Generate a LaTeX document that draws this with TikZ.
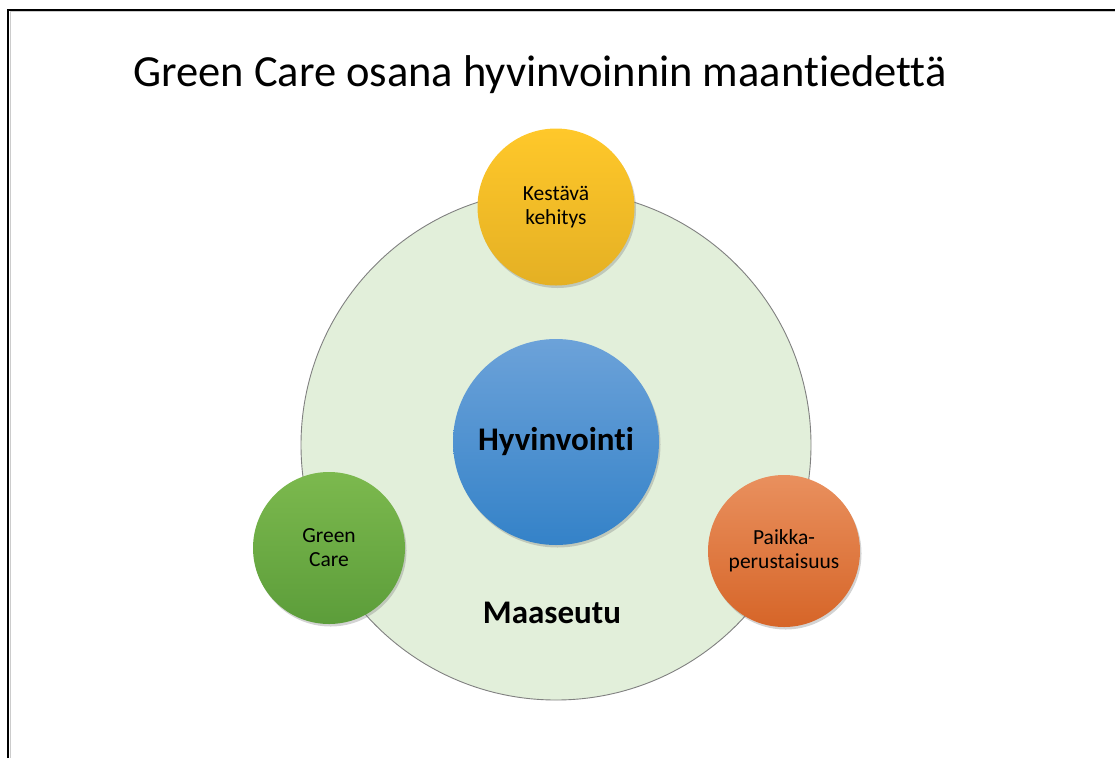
\documentclass[tikz,border=0pt]{standalone}
\usepackage{fontspec}
\setmainfont{Carlito}[Ligatures={NoCommon}]
\usepackage{xcolor}
\usetikzlibrary{shadows}

\definecolor{ringfill}{RGB}{226,239,218}
\definecolor{ringline}{RGB}{128,128,128}
\definecolor{bluetop}{RGB}{108,162,217}
\definecolor{bluebot}{RGB}{52,130,200}
\definecolor{yellowtop}{RGB}{255,200,42}
\definecolor{yellowbot}{RGB}{228,176,36}
\definecolor{greentop}{RGB}{124,185,78}
\definecolor{greenbot}{RGB}{92,157,58}
\definecolor{orangetop}{RGB}{233,144,94}
\definecolor{orangebot}{RGB}{214,101,40}

\tikzset{
  ball/.style={circle, inner sep=0pt, align=center,
    font=\fontsize{21.5}{24}\selectfont,
    drop shadow={opacity=0.35, shadow xshift=1.5pt, shadow yshift=-2.5pt}},
  bigtext/.style={font=\bfseries\fontsize{33}{38}\selectfont},
}

\begin{document}
\begin{tikzpicture}[x=1pt,y=-1pt]
    \useasboundingbox (0,0) rectangle (1115,758);
    % frame of the slide
    \draw [black, line width=2pt] (8.3,758) -- (8.3,10) -- (1115,10);
    \draw [black!20, line width=0.8pt] (10.2,758) -- (10.2,11.8) -- (1115,11.8);
    \node (title) [anchor=base west, font=\fontsize{44.5}{50}\selectfont] at (130,86) {Green Care osana hyvinvoinnin maantiedettä};
    % rural ring
    \node (maaseutu) [circle, inner sep=0pt, draw=ringline, line width=0.9pt, fill=ringfill, minimum size=510pt] at (556,445) {};
    \node (maaseutulabel) [bigtext] at (552,613) {Maaseutu};
    % circles
    \node (hyvinvointi) [ball, bigtext, minimum size=206pt, top color=bluetop, bottom color=bluebot] at (556,442) {Hyvinvointi};
    \node (kestava) [ball, minimum size=157pt, top color=yellowtop, bottom color=yellowbot] at (556,207) {Kestävä\\kehitys};
    \node (greencare) [ball, minimum size=152pt, top color=greentop, bottom color=greenbot] at (329,548) {Green\\Care};
    \node (paikka) [ball, minimum size=152pt, top color=orangetop, bottom color=orangebot] at (784,551) {Paikka-\\perustaisuus};
\end{tikzpicture}
\end{document}
